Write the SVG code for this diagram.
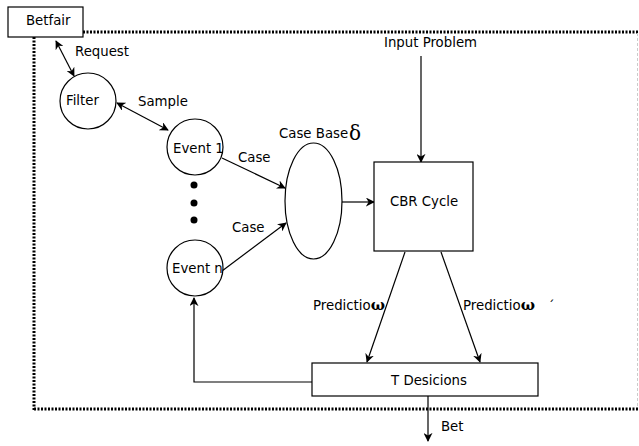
<svg xmlns="http://www.w3.org/2000/svg" width="639" height="446" viewBox="0 0 639 446">
<defs>
<marker id="ah" viewBox="0 0 10 10" refX="9" refY="5" markerWidth="9" markerHeight="9" markerUnits="userSpaceOnUse" orient="auto-start-reverse">
<path d="M0,0 L10,5 L0,10 L3,5 z" fill="#000"/>
</marker>
</defs>
<style>
text{font-family:"DejaVu Sans",sans-serif;font-size:13.3px;fill:#000}
.n{fill:#fff;stroke:#000;stroke-width:1.2}
.c{fill:none;stroke:#000;stroke-width:1.2}
.a{marker-end:url(#ah)}
.b{marker-start:url(#ah);marker-end:url(#ah)}
.dot{fill:none;stroke:#000;stroke-width:3;stroke-dasharray:2 1.5}
.w{font-family:"DejaVu Serif",serif;font-size:15px;font-weight:bold}
</style>
<rect width="639" height="446" fill="#fff"/>
<g id="boundary">
<path class="dot" d="M34,410 L34,32 L638,32"/>
<path class="dot" d="M34,409 L638,409"/>
<path d="M637.5,33 L637.5,408" stroke="#ccc" stroke-width="1" stroke-dasharray="3 2" fill="none"/>
</g>
<g id="connectors">
<line class="c b" x1="56" y1="41" x2="74" y2="76"/>
<line class="c b" x1="117" y1="103" x2="168" y2="130"/>
<line class="c a" x1="222" y1="158" x2="285" y2="188"/>
<line class="c a" x1="222" y1="271" x2="286" y2="223"/>
<line class="c a" x1="342" y1="202" x2="374" y2="202"/>
<line class="c a" x1="421" y1="56" x2="421" y2="162"/>
<line class="c a" x1="405" y1="252" x2="367" y2="362"/>
<line class="c a" x1="441" y1="252" x2="480" y2="362"/>
<path class="c a" d="M312,382 L194,382 L194,298"/>
<line class="c a" x1="428" y1="392" x2="428" y2="441"/>
<text x="75" y="56">Request</text>
<text x="138" y="106">Sample</text>
<text x="238" y="162">Case</text>
<text x="232" y="232">Case</text>
<text x="384" y="47">Input Problem</text>
<text x="313" y="310">Predictio<tspan class="w">ω</tspan></text>
<text x="463" y="310">Predictio<tspan class="w">ω</tspan></text>
<text x="548" y="310" style="font-size:13px">´</text>
<text x="441" y="431">Bet</text>
</g>
<g id="betfair">
<rect class="n" x="8" y="7" width="75" height="30"/>
<text x="26" y="25">Betfair</text>
</g>
<g id="filter">
<circle class="n" cx="88" cy="101" r="28"/>
<text x="66" y="105">Filter</text>
</g>
<g id="event1">
<circle class="n" cx="195" cy="147" r="28"/>
<text x="173" y="153">Event 1</text>
</g>
<g id="dots">
<circle cx="194" cy="185" r="3.5"/>
<circle cx="194" cy="203" r="3.5"/>
<circle cx="194" cy="220" r="3.5"/>
</g>
<g id="eventn">
<circle class="n" cx="195" cy="268" r="28"/>
<text x="172" y="273">Event n</text>
</g>
<g id="casebase">
<ellipse class="n" cx="313.5" cy="201" rx="28.5" ry="58"/>
<text x="279" y="138">Case Base</text>
<text x="349" y="140" style="font-size:20px;font-family:'DejaVu Serif',serif">δ</text>
</g>
<g id="cbr">
<rect class="n" x="374" y="162" width="99" height="89"/>
<text x="424" y="206" text-anchor="middle">CBR Cycle</text>
</g>
<g id="tdecisions">
<rect class="n" x="312" y="363" width="226" height="33"/>
<text x="429" y="385" text-anchor="middle">T Desicions</text>
</g>
</svg>
